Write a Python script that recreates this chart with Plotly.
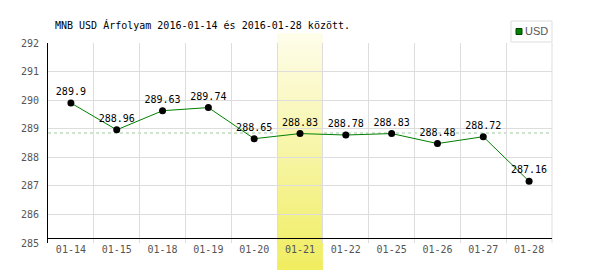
import plotly.graph_objects as go

categories = ["01-14", "01-15", "01-18", "01-19", "01-20", "01-21",
              "01-22", "01-25", "01-26", "01-27", "01-28"]
values = [289.9, 288.96, 289.63, 289.74, 288.65, 288.83,
          288.78, 288.83, 288.48, 288.72, 287.16]
value_labels = ["289.9", "288.96", "289.63", "289.74", "288.65", "288.83",
                "288.78", "288.83", "288.48", "288.72", "287.16"]
average_value = 288.85
highlight_category = "01-21"
y_ticks = [285, 286, 287, 288, 289, 290, 291, 292]
title_text = "MNB USD Árfolyam 2016-01-14 és 2016-01-28 között."
legend_name = "USD"

W, H = 600, 270
ML, MR, MT, MB = 48, 48, 43, 27
plot_w = W - ML - MR
plot_h = H - MT - MB
MONO = "DejaVu Sans Mono"

def py(px):
    """pixel row -> paper y"""
    return (H - MB - px) / plot_h

def pxx(px):
    """pixel column -> paper x"""
    return (px - ML) / plot_w

fig = go.Figure()

fig.add_trace(go.Scatter(
    x=categories, y=values, mode="lines+markers+text",
    text=value_labels, textposition="top center",
    textfont=dict(family=MONO, size=10, color="#000"),
    line=dict(color="#008000", width=1),
    marker=dict(color="#000", size=7),
    showlegend=False, cliponaxis=False,
))

shapes = []
# right border grid line
shapes.append(dict(type="line", xref="paper", yref="paper", x0=1, x1=1,
                   y0=0, y1=1, line=dict(color="#dddddd", width=1),
                   layer="below"))
# average dashed line
shapes.append(dict(type="line", xref="paper", yref="y", x0=0, x1=1,
                   y0=average_value, y1=average_value,
                   line=dict(color="#9fc99f", width=1, dash="3px,3px"),
                   layer="between"))

# highlight band with vertical gradient
hi = categories.index(highlight_category)
n = len(categories)
top_px, bot_px = 33, 270
c_top = (254, 253, 235)
c_bot = (240, 237, 96)
N = 60
for k in range(N):
    t = (k + 0.5) / N
    c = tuple(round(c_top[j] + (c_bot[j] - c_top[j]) * t) for j in range(3))
    y0p = top_px + (bot_px - top_px) * k / N
    y1p = top_px + (bot_px - top_px) * (k + 1) / N + 0.6
    shapes.append(dict(type="rect", xref="paper", yref="paper",
                       x0=hi / n, x1=(hi + 1) / n,
                       y0=py(y1p), y1=py(y0p),
                       fillcolor="rgb(%d,%d,%d)" % c, line=dict(width=0),
                       layer="between"))

# legend box
shapes.append(dict(type="rect", xref="paper", yref="paper",
                   x0=pxx(511), x1=1, y0=py(42), y1=py(21),
                   fillcolor="white", line=dict(color="#dddddd", width=1)))
shapes.append(dict(type="rect", xref="paper", yref="paper",
                   x0=pxx(516), x1=pxx(522), y0=py(34.5), y1=py(28.5),
                   fillcolor="#008000", line=dict(color="#004400", width=1)))

annotations = [
    dict(text=title_text, xref="paper", yref="paper",
         x=pxx(53), y=py(25), xanchor="left", yanchor="middle",
         showarrow=False, font=dict(family=MONO, size=10, color="#000")),
    dict(text=legend_name, xref="paper", yref="paper",
         x=pxx(523), y=py(31.5), xanchor="left", yanchor="middle",
         showarrow=False,
         font=dict(family="Liberation Sans Narrow, Liberation Sans, Arial", size=11,
                   color="#555")),
]

fig.update_layout(
    width=W, height=H,
    margin=dict(l=ML, r=MR, t=MT, b=MB, pad=0),
    plot_bgcolor="white", paper_bgcolor="white",
    shapes=shapes, annotations=annotations,
    showlegend=False,
    xaxis=dict(type="category", range=[-0.5, n - 0.5], tickson="boundaries",
               anchor="free", position=py(238),
               showgrid=True, gridcolor="#dddddd", gridwidth=1,
               ticks="", showline=True, linecolor="#000", linewidth=1,
               zeroline=False, ticklabelstandoff=2,
               tickfont=dict(family=MONO, size=10, color="#555"),
               fixedrange=True),
    yaxis=dict(range=[285, 292], tickvals=y_ticks,
               showgrid=True, gridcolor="#dddddd", gridwidth=1,
               ticks="", showline=True, linecolor="#000", linewidth=1,
               zeroline=False,
               ticklabelstandoff=6,
               tickfont=dict(family=MONO, size=10, color="#555"),
               fixedrange=True),
)

fig.write_html("out.html")
